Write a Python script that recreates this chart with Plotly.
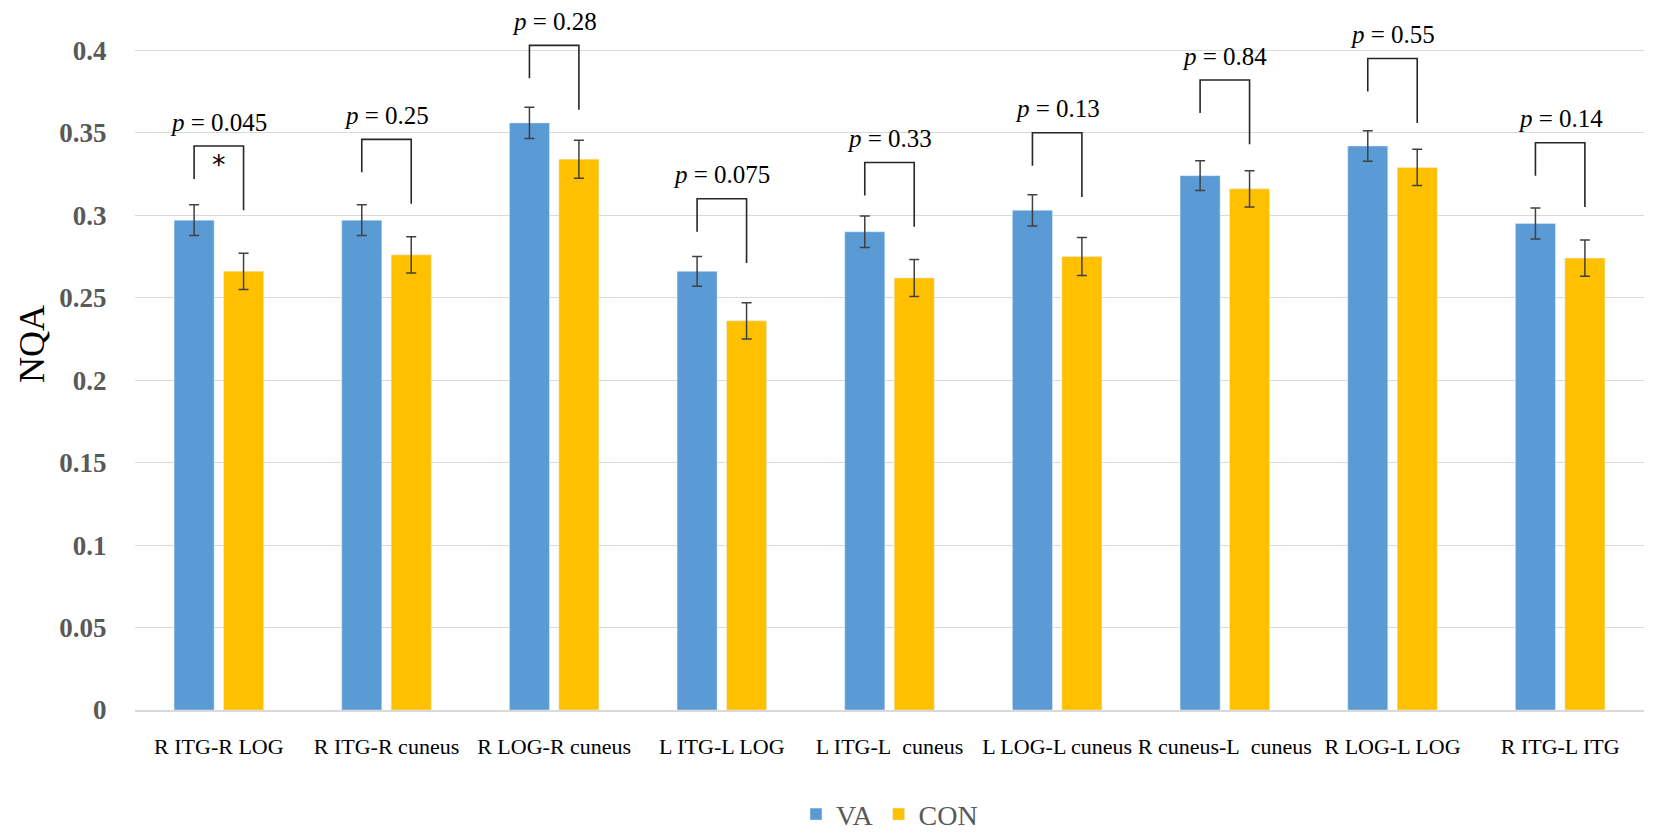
import plotly.graph_objects as go

categories = ["R ITG-R LOG", "R ITG-R cuneus", "R LOG-R cuneus", "L ITG-L LOG",
              "L ITG-L\u00a0 cuneus", "L LOG-L cuneus", "R cuneus-L\u00a0 cuneus",
              "R LOG-L LOG", "R ITG-L ITG"]
va_values = [0.297, 0.297, 0.356, 0.266, 0.290, 0.303, 0.324, 0.342, 0.295]
va_err = [0.0093, 0.0093, 0.0095, 0.0090, 0.0095, 0.0095, 0.0090, 0.0093, 0.0094]
con_values = [0.266, 0.276, 0.334, 0.236, 0.262, 0.275, 0.316, 0.329, 0.274]
con_err = [0.0110, 0.0110, 0.0115, 0.0110, 0.0112, 0.0115, 0.0110, 0.0110, 0.0110]
p_values = ["0.045", "0.25", "0.28", "0.075", "0.33", "0.13", "0.84", "0.55", "0.14"]
bracket_top = [0.342, 0.346, 0.403, 0.310, 0.332, 0.350, 0.382, 0.395, 0.344]
significant = [True, False, False, False, False, False, False, False, False]
y_ticks = [0, 0.05, 0.1, 0.15, 0.2, 0.25, 0.3, 0.35, 0.4]
y_tick_labels = ["0", "0.05", "0.1", "0.15", "0.2", "0.25", "0.3", "0.35", "0.4"]

SERIF = "Liberation Serif"
BARGAP = 0.41
OFFSET = (1 - BARGAP) / 4
LEFT_DROP = 0.020
RIGHT_DROP = 0.039
TEXT_LIFT = 0.0145

W, H = 1654, 837
ML, MR, MT, MB = 127, 18, 6, 122
PLOT_H = H - MT - MB
PLOT_W = W - ML - MR
Y_TOP = 0.4 * PLOT_H / (PLOT_H - 43 + MT)  # keeps 0.4 gridline near the reference position

xs = list(range(len(categories)))

fig = go.Figure()
fig.add_trace(go.Bar(
    x=xs, y=va_values, name="VA", marker_color="#5B9BD5",
    error_y=dict(type="data", array=va_err, color="#404040", thickness=1.5, width=5),
))
fig.add_trace(go.Bar(
    x=xs, y=con_values, name="CON", marker_color="#FFC000",
    error_y=dict(type="data", array=con_err, color="#404040", thickness=1.5, width=5),
))

for i, top in enumerate(bracket_top):
    xl = xs[i] - OFFSET
    xr = xs[i] + OFFSET
    fig.add_shape(
        type="path",
        path=f"M {xl} {top - LEFT_DROP} L {xl} {top} L {xr} {top} L {xr} {top - RIGHT_DROP}",
        xref="x", yref="y", line=dict(color="#262626", width=1.6),
    )
    fig.add_annotation(
        x=xs[i], y=top + TEXT_LIFT, xref="x", yref="y",
        text=f"<i>p</i> = {p_values[i]}", showarrow=False,
        font=dict(family=SERIF, size=25, color="#000000"),
        xanchor="center", yanchor="middle",
    )
    if significant[i]:
        fig.add_annotation(
            x=xs[i], y=top - 0.011, xref="x", yref="y", text="*", showarrow=False,
            font=dict(family="DejaVu Sans", size=27, color="#000000"),
            xanchor="center", yanchor="middle",
        )

# y-axis title placed as rotated text, level with the reference
fig.add_annotation(
    x=(24 - ML) / PLOT_W, xref="paper", y=0.222, yref="y", text="NQA", textangle=-90,
    showarrow=False, font=dict(family=SERIF, size=36, color="#000000"),
    xanchor="center", yanchor="middle",
)

fig.update_layout(
    width=W, height=H,
    font=dict(family=SERIF, color="#000000"),
    margin=dict(l=ML, r=MR, t=MT, b=MB),
    paper_bgcolor="white", plot_bgcolor="white",
    barmode="group", bargap=BARGAP, bargroupgap=0.19,
    showlegend=True,
    legend=dict(
        orientation="h", x=0.5, xanchor="center", y=-0.15, yanchor="middle",
        font=dict(family=SERIF, size=28, color="#595959"),
        itemwidth=30,
    ),
    xaxis=dict(
        range=[-0.5, len(categories) - 0.5],
        tickmode="array", tickvals=xs, ticktext=categories,
        tickfont=dict(family=SERIF, size=22, color="#000000"),
        showgrid=False, zeroline=False,
        showline=True, linecolor="#D9D9D9", linewidth=2,
        ticks="outside", ticklen=16, tickcolor="rgba(0,0,0,0)",
    ),
    yaxis=dict(
        range=[0, Y_TOP],
        tickmode="array", tickvals=y_ticks, ticktext=y_tick_labels,
        tickfont=dict(family=SERIF, size=27, color="#595959", weight="bold"),
        showgrid=True, gridcolor="#D9D9D9", gridwidth=1,
        zeroline=False, showline=False,
        ticks="outside", ticklen=22, tickcolor="rgba(0,0,0,0)",
    ),
)

fig.write_html("out.html")
